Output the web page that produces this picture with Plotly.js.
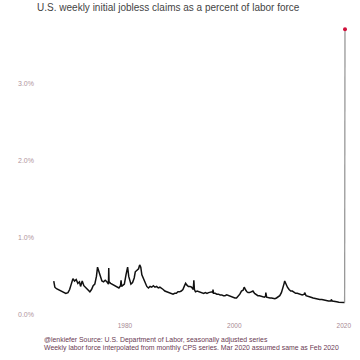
<!DOCTYPE html>
<html>
<head>
<meta charset="utf-8">
<script src="https://cdn.plot.ly/plotly-3.0.1.min.js"></script>
<style>html,body{margin:0;padding:0;background:#fff}#chart{width:360px;height:360px}</style>
</head>
<body>
<div id="chart"></div>
<script>
const years = [1967.0,1967.2,1967.5,1967.8,1968.2,1968.5,1968.8,1969.2,1969.6,1969.9,
1970.2,1970.5,1970.8,1971.1,1971.4,1971.7,1971.9,1972.2,1972.5,1972.8,
1973.1,1973.4,1973.6,1973.9,1974.2,1974.5,1974.8,1975.0,1975.2,1975.5,
1975.8,1976.1,1976.4,1976.7,1977.0,1977.05,1977.1,1977.4,1977.7,1978.0,
1978.3,1978.6,1978.9,1979.2,1979.3,1979.4,1979.6,1979.9,1980.2,1980.4,
1980.5,1980.7,1980.9,1981.1,1981.4,1981.7,1981.9,1982.2,1982.5,1982.7,
1982.9,1983.1,1983.4,1983.7,1984.0,1984.3,1984.6,1984.9,1985.2,1985.5,
1985.8,1986.1,1986.4,1986.7,1987.0,1987.3,1987.6,1987.9,1988.2,1988.5,
1988.8,1989.1,1989.4,1989.7,1990.0,1990.3,1990.6,1990.9,1991.1,1991.3,
1991.6,1991.9,1992.2,1992.5,1992.6,1992.7,1992.9,1993.2,1993.5,1993.8,
1994.1,1994.4,1994.7,1995.0,1995.3,1995.6,1995.9,1996.05,1996.1,1996.2,
1996.5,1996.8,1997.1,1997.4,1997.7,1998.0,1998.3,1998.6,1998.9,1999.2,
1999.5,1999.8,2000.1,2000.4,2000.7,2001.0,2001.3,2001.6,2001.8,2001.9,
2002.1,2002.3,2002.5,2002.8,2003.1,2003.4,2003.7,2004.0,2004.3,2004.6,
2004.9,2005.2,2005.5,2005.7,2005.75,2005.9,2006.2,2006.5,2006.8,2007.1,
2007.4,2007.7,2008.0,2008.3,2008.6,2008.9,2009.1,2009.2,2009.4,2009.7,
2010.0,2010.3,2010.6,2010.9,2011.2,2011.5,2011.8,2012.1,2012.4,2012.8,
2012.85,2013.1,2013.4,2013.7,2014.0,2014.4,2014.8,2015.2,2015.6,2016.0,
2016.4,2016.8,2017.2,2017.65,2017.7,2017.9,2018.3,2018.7,2019.1,2019.5,
2019.9,2020.15,2020.22];
const pctValues = [0.44,0.36,0.34,0.33,0.31,0.30,0.29,0.28,0.29,0.33,
0.40,0.47,0.44,0.46,0.41,0.43,0.37,0.44,0.38,0.36,
0.34,0.32,0.30,0.33,0.38,0.40,0.50,0.62,0.58,0.50,
0.44,0.43,0.45,0.43,0.40,0.61,0.43,0.41,0.40,0.38,
0.37,0.36,0.35,0.38,0.45,0.37,0.38,0.40,0.52,0.60,
0.62,0.50,0.43,0.40,0.42,0.48,0.56,0.58,0.60,0.65,
0.62,0.52,0.46,0.42,0.37,0.35,0.37,0.36,0.38,0.36,
0.37,0.35,0.36,0.35,0.33,0.31,0.30,0.30,0.29,0.28,
0.27,0.28,0.28,0.30,0.30,0.31,0.33,0.38,0.41,0.39,
0.37,0.37,0.36,0.33,0.45,0.33,0.30,0.31,0.30,0.29,
0.29,0.28,0.29,0.28,0.29,0.30,0.30,0.29,0.33,0.28,
0.28,0.27,0.27,0.26,0.26,0.25,0.25,0.26,0.25,0.24,
0.23,0.23,0.22,0.22,0.24,0.27,0.31,0.32,0.36,0.34,
0.32,0.30,0.29,0.29,0.30,0.31,0.28,0.26,0.25,0.25,
0.24,0.24,0.23,0.24,0.29,0.23,0.22,0.22,0.22,0.21,
0.21,0.22,0.23,0.25,0.29,0.35,0.41,0.44,0.40,0.36,
0.33,0.31,0.31,0.29,0.28,0.28,0.27,0.26,0.26,0.27,
0.29,0.25,0.24,0.23,0.23,0.22,0.21,0.21,0.20,0.20,
0.19,0.19,0.18,0.18,0.20,0.18,0.17,0.17,0.165,0.165,
0.16,0.16,3.71];
const xTickVals = [1980, 2000, 2020];
const yTickVals = [0, 1, 2, 3];
const yTickText = ['0.0%', '1.0%', '2.0%', '3.0%'];
const titleText = 'U.S. weekly initial jobless claims as a percent of labor force';
const sourceLine1 = '@lenkiefer Source: U.S. Department of Labor, seasonally adjusted series';
const sourceLine2 = 'Weekly labor force interpolated from monthly CPS series. Mar 2020 assumed same as Feb 2020';

const n = years.length;
const traces = [
  {x: years.slice(0, n - 1), y: pctValues.slice(0, n - 1), type: 'scatter', mode: 'lines',
   line: {color: '#111', width: 1.5}, hoverinfo: 'skip'},
  {x: years.slice(n - 2), y: pctValues.slice(n - 2), type: 'scatter', mode: 'lines',
   line: {color: '#999', width: 1.3}, hoverinfo: 'skip'},
  {x: years.slice(n - 1), y: pctValues.slice(n - 1), type: 'scatter', mode: 'markers',
   marker: {color: '#d0103a', size: 4}, hoverinfo: 'skip'}
];
const srcFont = {size: 6.9, color: '#6a3a52'};
const layout = {
  width: 360, height: 360,
  margin: {l: 45, r: 8, t: 20, b: 42},
  paper_bgcolor: '#fff', plot_bgcolor: '#fff',
  showlegend: false,
  font: {family: 'Liberation Sans, Arial, sans-serif'},
  title: {text: titleText, font: {size: 10, color: '#444'},
          xref: 'container', x: 0.103, xanchor: 'left', yref: 'container', y: 0.978, yanchor: 'middle'},
  xaxis: {range: [1965.4, 2021.5], tickvals: xTickVals, tickformat: 'd', showgrid: false,
          zeroline: false, showline: false, ticks: '',
          tickfont: {size: 6.5, color: '#a88a94'}, ticklabelstandoff: 2},
  yaxis: {range: [-0.04, 3.83], tickvals: yTickVals, ticktext: yTickText, showgrid: false,
          zeroline: false, showline: false, ticks: '',
          tickfont: {size: 7, color: '#b0949c'}, ticklabelstandoff: 10},
  annotations: [
    {text: sourceLine1, xref: 'paper', yref: 'paper', x: -0.01, y: -0.0755,
     xanchor: 'left', yanchor: 'middle', align: 'left', showarrow: false, font: srcFont},
    {text: sourceLine2, xref: 'paper', yref: 'paper', x: -0.01, y: -0.1023,
     xanchor: 'left', yanchor: 'middle', align: 'left', showarrow: false, font: srcFont}
  ]
};
Plotly.newPlot('chart', traces, layout, {staticPlot: true, displayModeBar: false});
</script>
</body>
</html>
